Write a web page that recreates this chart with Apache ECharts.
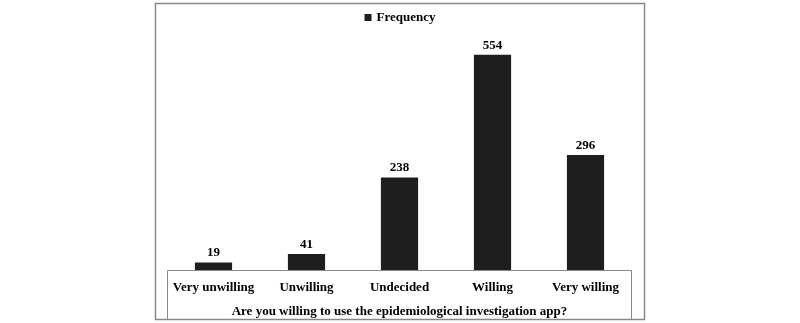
<!DOCTYPE html>
<html>
<head>
<meta charset="utf-8">
<script src="https://cdn.jsdelivr.net/npm/echarts@6/dist/echarts.min.js"></script>
<style>
  html, body { margin: 0; padding: 0; background: #fff; }
  #chart { width: 800px; height: 323px; }
</style>
</head>
<body>
<div id="chart"></div>
<script>
const categories = ['Very unwilling', 'Unwilling', 'Undecided', 'Willing', 'Very willing'];
const frequency = [19, 41, 238, 554, 296];

const FONT = '"Liberation Serif", serif';
const chart = echarts.init(document.getElementById('chart'));

chart.setOption({
  animation: false,
  legend: {
    data: ['Frequency'],
    top: 6,
    left: 'center',
    icon: 'rect',
    itemWidth: 7,
    itemHeight: 7,
    itemGap: 4,
    textStyle: { fontFamily: FONT, fontWeight: 'bold', fontSize: 13, color: '#000' }
  },
  grid: { left: 167, right: 168, top: 37, bottom: 53, outerBoundsMode: 'none', containLabel: false },
  xAxis: {
    type: 'category',
    data: categories,
    axisTick: { show: false },
    axisLine: { show: false },
    axisLabel: { interval: 0, fontFamily: FONT, fontWeight: 'bold', fontSize: 13, color: '#000', margin: 11 },
    name: 'Are you willing to use the epidemiological investigation app?',
    nameLocation: 'middle',
    nameGap: 35,
    nameTextStyle: { fontFamily: FONT, fontWeight: 'bold', fontSize: 13, color: '#000' }
  },
  yAxis: {
    type: 'value',
    min: 0,
    max: 600,
    show: false
  },
  series: [{
    name: 'Frequency',
    type: 'bar',
    data: frequency,
    barWidth: '40%',
    itemStyle: { color: '#1e1e1e' },
    label: {
      show: true,
      position: 'top',
      distance: 3,
      fontFamily: FONT,
      fontWeight: 'bold',
      fontSize: 13,
      color: '#000'
    }
  }],
  graphic: [
    {
      type: 'rect',
      shape: { x: 155.5, y: 3.5, width: 489, height: 316 },
      style: { fill: null, stroke: '#888', lineWidth: 1.5 },
      silent: true
    },
    {
      type: 'polyline',
      shape: { points: [[167.5, 319], [167.5, 270.5], [631.5, 270.5], [631.5, 319]] },
      style: { fill: null, stroke: '#888', lineWidth: 1 },
      silent: true
    }
  ]
});
</script>
</body>
</html>
